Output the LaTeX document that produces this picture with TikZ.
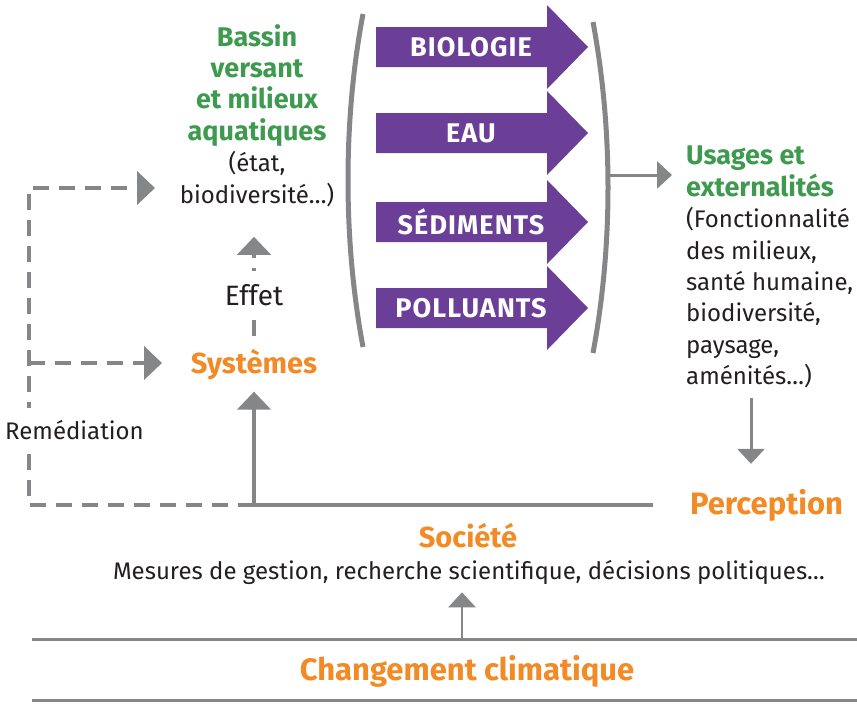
\documentclass[tikz,border=0pt]{standalone}
\usepackage{fontspec}
\setmainfont{Fira Sans}
\usetikzlibrary{arrows.meta}

\definecolor{vertc}{HTML}{3E9A4F}
\definecolor{orangec}{HTML}{F28A25}
\definecolor{violetc}{HTML}{6B3F98}
\definecolor{grisc}{HTML}{858688}
\definecolor{noirc}{HTML}{231F20}

\newcommand{\vtitre}[1]{{\fontsize{27}{31.4}\selectfont\bfseries\color{vertc}#1}}

\begin{document}
\begin{tikzpicture}[x=1pt,y=-1pt,                       % pixel grid
                    font=\fontsize{24}{31.4}\selectfont,
                    text=noirc,
                    grosse/.style={draw=grisc,line width=4.5pt,
                                   -{Triangle[width=33pt,length=18pt]}},
                    pointille/.style={grosse,dash pattern=on 16pt off 10pt},
                    fine/.style={draw=grisc,line width=3pt,
                                 -{Triangle[width=27pt,length=15pt]}},
                    otitre/.style={font=\fontsize{29}{31.4}\selectfont\bfseries,
                                   text=orangec,inner sep=0},
                    otitregros/.style={otitre,font=\fontsize{31}{31.4}\selectfont\bfseries},
                    crochet/.style={draw=grisc,line width=5pt},
                    trait/.style={draw=grisc,line width=3pt}
                    ]

\useasboundingbox (0,0) rectangle (857,713);

% Bassin versant
\node[anchor=north,align=center,inner sep=0] (bassin) at (257,24)
  {\vtitre{Bassin}\\\vtitre{versant}\\\vtitre{et milieux}\\\vtitre{aquatiques}\\(état,\\biodiversité…)};

% Systemes
\node[otitre,anchor=base] (sys) at (254,373) {Systèmes};
\draw[pointille,shorten <=13pt,shorten >=30pt] (sys.north) -- node[pos=0.38,fill=white,inner xsep=4pt,inner ysep=13pt,font=\fontsize{28}{31.4}\selectfont] (effet) {Effet} (sys.north |- bassin.south);

% Perception
\node[otitregros,anchor=west] (percep) at (690,505) {Perception};

% Remediation loop
\coordinate (coinbas) at (29,505);
\coordinate (coinhaut) at (29,188);
\coordinate (branche) at (29,363);
\coordinate (pointeB) at (155,188);
\coordinate (pointeS) at (162,363);
\draw[pointille] (sys.south |- percep.west) -- (coinbas) -- (coinhaut) -- (pointeB);
\draw[pointille] (branche) -- (pointeS);
\node[fill=white,anchor=west,inner xsep=4pt,inner ysep=12pt] (remed) at (1,430) {Remédiation};

% retour
\draw[grosse,shorten <=37pt,shorten >=12pt] (percep.west) -| (sys.south);

% Compartiments
\foreach \y/\lbl in {47/BIOLOGIE,133/EAU,222/SÉDIMENTS,308/POLLUANTS}{
  \fill[violetc] (376,\y-20) -- (547,\y-20) -- (547,\y-42) -- (588,\y)
                 -- (547,\y+42) -- (547,\y+20) -- (376,\y+20) -- cycle;
  \node[text=white,font=\fontsize{27}{30}\selectfont\bfseries\addfontfeatures{LetterSpace=4},inner sep=0] (comp-\y) at (471,\y) {\lbl};
}
\draw[crochet] (363,14) .. controls (343,120) and (343,240) .. (363,347);
\draw[crochet] (593,22) .. controls (613,130) and (613,245) .. (593,353);

% Usages
\node[anchor=north west,align=left,inner sep=0] (usages) at (686,146)
  {\vtitre{Usages et}\\\vtitre{externalités}\\(Fonctionnalité\\des milieux,\\santé humaine,\\biodiversité,\\paysage,\\aménités…)};
\coordinate (sortie) at (606,175);
\coordinate (pointeU) at (672,175);
\draw[fine] (sortie) -- (pointeU);
\coordinate (xdesc) at (751,0);
\draw[fine,shorten <=10pt,shorten >=25pt] (usages.south -| xdesc) -- (percep.north -| xdesc);

% Societe
\node[otitre,anchor=base] (societe) at (468,547) {Société};
\node[anchor=base,inner sep=0] (mesures) at (469,579) {Mesures de gestion, recherche scientifique, décisions politiques…};

% Changement climatique
\draw[trait] (32,639) -- (857,639);
\draw[trait] (32,700) -- (857,700);
\node[otitregros,anchor=base] (clim) at (467,680) {Changement climatique};
\coordinate (depart) at (462,639);
\draw[fine,line width=2.5pt,shorten >=8pt] (depart) -- (mesures.south -| depart);

\end{tikzpicture}
\end{document}
